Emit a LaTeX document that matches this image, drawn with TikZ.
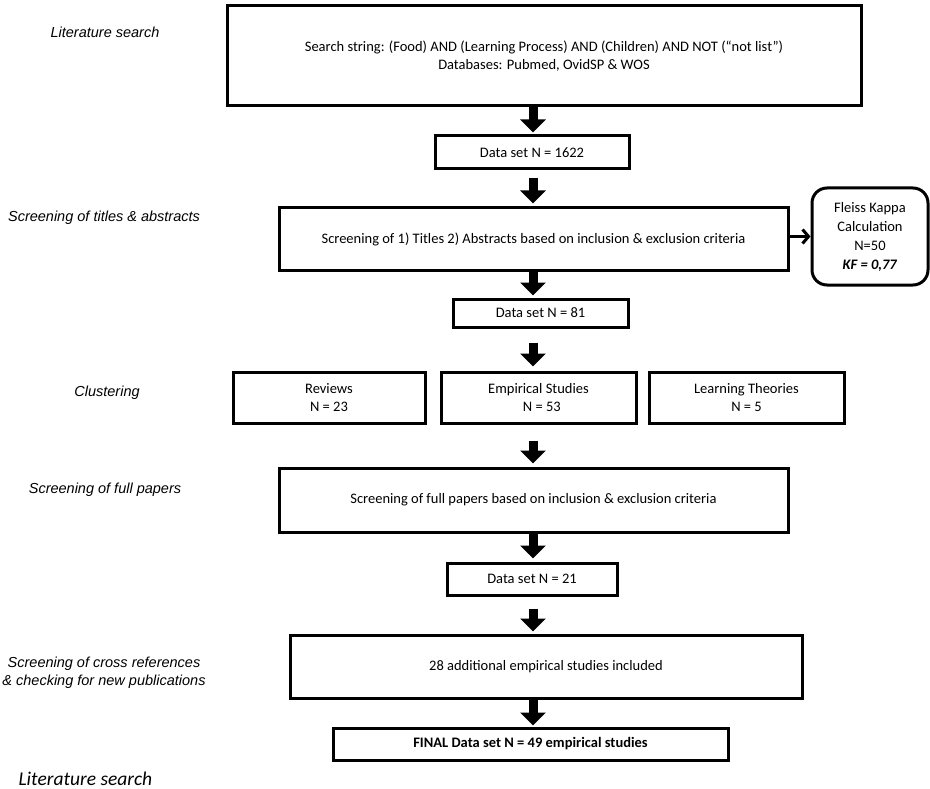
\documentclass[tikz,border=0pt]{standalone}
\usepackage{fontspec}
\setmainfont{Carlito}
\newfontfamily\lblfont{Liberation Sans}
\usetikzlibrary{arrows.meta}
\tikzset{
  box/.style={draw, line width=3pt, inner sep=0pt, font=\fontsize{14.5}{18}\selectfont, align=center},
  rbox/.style={box, rounded corners=15pt, font=\fontsize{14.5}{19}\selectfont},
  lbl/.style={font=\lblfont\itshape\fontsize{14.5}{18}\selectfont, align=center},
  bigarrow/.style={line width=9pt, -{Triangle[width=25pt,length=13pt]}},
  thinarrow/.style={line width=3pt, -{Straight Barb[length=6pt,width=14pt]}},
}
\newcommand{\bx}[6]{\node[#1, minimum width=#4-#3, minimum height=#6-#5] (#2) at ({(#3+#4)/2},{(#5+#6)/2})}
\begin{document}
\begin{tikzpicture}[x=1pt,y=-1pt]
\useasboundingbox (0,0) rectangle (930,789);
\coordinate (ax) at (533,0);
\bx{box}{b1}{227}{861}{6}{106} {Search string: (Food) AND (Learning Process) AND (Children) AND NOT (“not list”)\\Databases: Pubmed, OvidSP \& WOS};
\bx{box}{b2}{435}{629}{136}{169} {Data set N = 1622};
\bx{box}{b3}{279}{788}{208}{270} {Screening of 1) Titles 2) Abstracts based on inclusion \& exclusion criteria};
\bx{rbox}{fk}{812}{928}{188}{285} {Fleiss Kappa\\Calculation\\N=50\\\textbf{\textit{KF = 0,77}}};
\bx{box}{b4}{453}{628}{299}{327} {Data set N = 81};
\bx{box}{c1}{233}{425}{372}{423} {Reviews\\N = 23};
\bx{box}{c2}{441}{636}{372}{423} {Empirical Studies\\\ \ N = 53};
\bx{box}{c3}{649}{844}{372}{423} {Learning Theories\\N = 5};
\bx{box}{b5}{279}{788}{468}{532} {Screening of full papers based on inclusion \& exclusion criteria};
\bx{box}{b6}{447}{617}{563}{595} {Data set N = 21};
\bx{box}{b7}{290}{802}{635}{698} {28 additional empirical studies included};
\bx{box}{b8}{333}{728}{728}{760} {\textbf{FINAL Data set N = 49 empirical studies}};

\draw[bigarrow, shorten >=2pt] (ax |- b1.south) -- (ax |- b2.north);
\draw[bigarrow, shorten <=8pt, shorten >=3pt] (ax |- b2.south) -- (ax |- b3.north);
\draw[bigarrow, shorten >=2pt] (ax |- b3.south) -- (ax |- b4.north);
\draw[bigarrow, shorten <=14pt, shorten >=4pt] (ax |- b4.south) -- (ax |- c2.north);
\draw[bigarrow, shorten <=16pt, shorten >=3pt] (ax |- c2.south) -- (ax |- b5.north);
\draw[bigarrow, shorten >=3pt] (ax |- b5.south) -- (ax |- b6.north);
\draw[bigarrow, shorten <=12pt, shorten >=2pt] (ax |- b6.south) -- (ax |- b7.north);
\draw[bigarrow, shorten >=1pt] (ax |- b7.south) -- (ax |- b8.north);
\draw[thinarrow] (b3.east |- fk.west) -- (fk.west);

\node[lbl] (l1) at (105,32) {Literature search};
\node[lbl] (l2) at (104,218) {Screening of titles \& abstracts};
\node[lbl] (l3) at (107,393) {Clustering};
\node[lbl] (l4) at (105,490) {Screening of full papers};
\node[lbl] (l5) at (104,673) {Screening of cross references\\\& checking for new publications};
\node[font=\itshape\fontsize{19.5}{22}\selectfont, anchor=west] (l6) at (15,779) {Literature search};
\end{tikzpicture}
\end{document}
